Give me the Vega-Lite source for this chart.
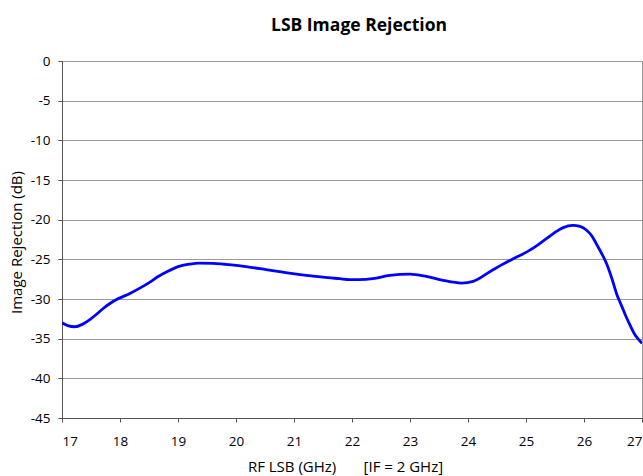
{
  "$schema": "https://vega.github.io/schema/vega-lite/v6.json",
  "width": 580,
  "height": 357,
  "autosize": {"type": "none"},
  "padding": {"left": 62, "top": 61, "right": 1, "bottom": 58},
  "background": "white",
  "title": {"text": "LSB Image Rejection", "font": "Open Sans", "fontSize": 17.5, "fontWeight": "bold", "color": "#000", "anchor": "middle", "offset": 20, "dx": 7},
  "config": {
    "view": {"stroke": "#999", "strokeWidth": 1},
    "font": "Open Sans"
  },
  "data": {"values": [
    {"f": 17.0, "ir": -33.0},
    {"f": 17.1, "ir": -33.35},
    {"f": 17.22, "ir": -33.5},
    {"f": 17.35, "ir": -33.2},
    {"f": 17.48, "ir": -32.6},
    {"f": 17.6, "ir": -31.9},
    {"f": 17.71, "ir": -31.2},
    {"f": 17.82, "ir": -30.6},
    {"f": 17.94, "ir": -30.05},
    {"f": 18.05, "ir": -29.7},
    {"f": 18.17, "ir": -29.3},
    {"f": 18.35, "ir": -28.6},
    {"f": 18.51, "ir": -27.9},
    {"f": 18.65, "ir": -27.2},
    {"f": 18.8, "ir": -26.6},
    {"f": 19.03, "ir": -25.85},
    {"f": 19.2, "ir": -25.6},
    {"f": 19.37, "ir": -25.47},
    {"f": 19.6, "ir": -25.5},
    {"f": 19.8, "ir": -25.62},
    {"f": 20.0, "ir": -25.76},
    {"f": 20.25, "ir": -26.0},
    {"f": 20.52, "ir": -26.3},
    {"f": 20.75, "ir": -26.55},
    {"f": 20.98, "ir": -26.8},
    {"f": 21.25, "ir": -27.05},
    {"f": 21.5, "ir": -27.25},
    {"f": 21.79, "ir": -27.44},
    {"f": 21.96, "ir": -27.55},
    {"f": 22.13, "ir": -27.57},
    {"f": 22.36, "ir": -27.44},
    {"f": 22.65, "ir": -27.02},
    {"f": 23.0, "ir": -26.86},
    {"f": 23.28, "ir": -27.15},
    {"f": 23.57, "ir": -27.65},
    {"f": 23.89, "ir": -27.99},
    {"f": 24.09, "ir": -27.78},
    {"f": 24.37, "ir": -26.6},
    {"f": 24.58, "ir": -25.7},
    {"f": 24.78, "ir": -24.92},
    {"f": 25.03, "ir": -24.0},
    {"f": 25.2, "ir": -23.2},
    {"f": 25.35, "ir": -22.4},
    {"f": 25.5, "ir": -21.6},
    {"f": 25.64, "ir": -21.0},
    {"f": 25.81, "ir": -20.72},
    {"f": 25.93, "ir": -20.85},
    {"f": 26.04, "ir": -21.3},
    {"f": 26.13, "ir": -22.0},
    {"f": 26.21, "ir": -23.0},
    {"f": 26.3, "ir": -24.2},
    {"f": 26.39, "ir": -25.55},
    {"f": 26.48, "ir": -27.4},
    {"f": 26.56, "ir": -29.3},
    {"f": 26.65, "ir": -30.9},
    {"f": 26.73, "ir": -32.3},
    {"f": 26.8, "ir": -33.4},
    {"f": 26.87, "ir": -34.4},
    {"f": 26.94, "ir": -35.1},
    {"f": 27.0, "ir": -35.6}
  ]},
  "mark": {"type": "line", "color": "#0000FF", "strokeWidth": 2.8, "interpolate": "monotone", "clip": true},
  "encoding": {
    "x": {
      "field": "f", "type": "quantitative",
      "scale": {"domain": [17, 27], "nice": false, "zero": false},
      "axis": {
        "title": "RF LSB (GHz)\u00a0\u00a0\u00a0\u00a0\u00a0\u00a0\u00a0[IF = 2 GHz]",
        "values": [17, 18, 19, 20, 21, 22, 23, 24, 25, 26, 27],
        "labelExpr": "'' + datum.value",
        "grid": false,
        "domainColor": "#555", "tickColor": "#555", "tickSize": 4,
        "labelFont": "Open Sans", "labelFontSize": 13.5, "labelColor": "#000", "labelPadding": 12,
        "titleFont": "Open Sans", "titleFontSize": 15, "titleFontWeight": "normal", "titleColor": "#000", "titlePadding": 12,
        "titleX": 283, "titleAlign": "center"
      }
    },
    "y": {
      "field": "ir", "type": "quantitative",
      "scale": {"domain": [-45, 0], "nice": false, "zero": false},
      "axis": {
        "title": "Image Rejection (dB)",
        "values": [-45, -40, -35, -30, -25, -20, -15, -10, -5, 0],
        "labelExpr": "'' + datum.value",
        "grid": true, "gridColor": "#999", "gridWidth": 1,
        "domainColor": "#555", "tickColor": "#555", "tickSize": 4,
        "labelFont": "Open Sans", "labelFontSize": 13.5, "labelColor": "#000", "labelPadding": 8,
        "titleFont": "Open Sans", "titleFontSize": 15, "titleFontWeight": "normal", "titleColor": "#000", "titlePadding": 6,
        "titleY": 181
      }
    }
  }
}
